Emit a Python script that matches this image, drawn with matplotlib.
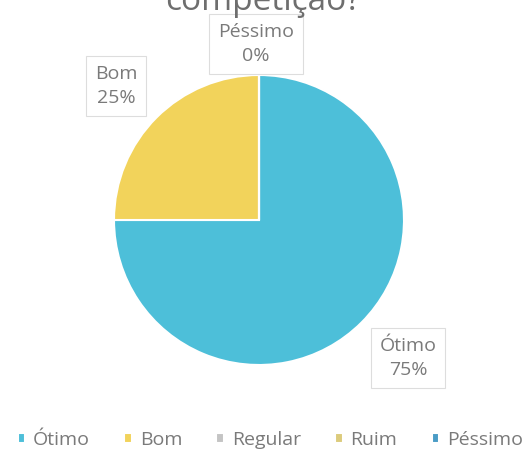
import matplotlib
matplotlib.use("Agg")
import matplotlib.pyplot as plt

categories = ["Ótimo", "Bom", "Regular", "Ruim", "Péssimo"]
values = [75, 25, 0, 0, 0]
colors = ["#4DBFD9", "#F2D35B", "#C4C4C4", "#DCCB7C", "#4A9CC6"]
title_text = "competição?"

plt.rcParams['font.family'] = ['Open Sans', 'DejaVu Sans']
fig = plt.figure(figsize=(5.25, 4.51), dpi=100)
ax = fig.add_axes([(259 - 145) / 525, (231 - 145) / 451, 290 / 525, 290 / 451])
wedges, _ = ax.pie(values, colors=colors, startangle=90, counterclock=False,
                   radius=1, wedgeprops=dict(edgecolor="white", linewidth=1.5))
ax.set_xlim(-1, 1)
ax.set_ylim(-1, 1)
ax.set_aspect('equal')
ax.axis('off')

txtcol = "#7A7A7A"
label_pos = {"Ótimo": (408 / 525, 1 - 358 / 451),
             "Bom": (116 / 525, 1 - 86 / 451),
             "Péssimo": (256 / 525, 1 - 44 / 451)}
for cat, v in zip(categories, values):
    if cat in label_pos:
        x, y = label_pos[cat]
        fig.text(x, y, f"{cat}\n{v}%", ha='center', va='center', fontsize=14,
                 color=txtcol, linespacing=1.45,
                 bbox=dict(boxstyle='square,pad=0.45', fc='white', ec='#DDDDDD', lw=0.8))

fig.text(0.5, 1 - 10 / 451, title_text, ha='center', va='baseline', fontsize=24, color='#6E6E6E')

leg = fig.legend(wedges, categories, loc='center', bbox_to_anchor=(0.515, 1 - 440 / 451),
                 ncol=5, frameon=False, fontsize=14, handlelength=0.4, handleheight=0.4,
                 handletextpad=0.4, columnspacing=1.75, labelcolor=txtcol)
fig.savefig("out.png", dpi=100, facecolor='white')
